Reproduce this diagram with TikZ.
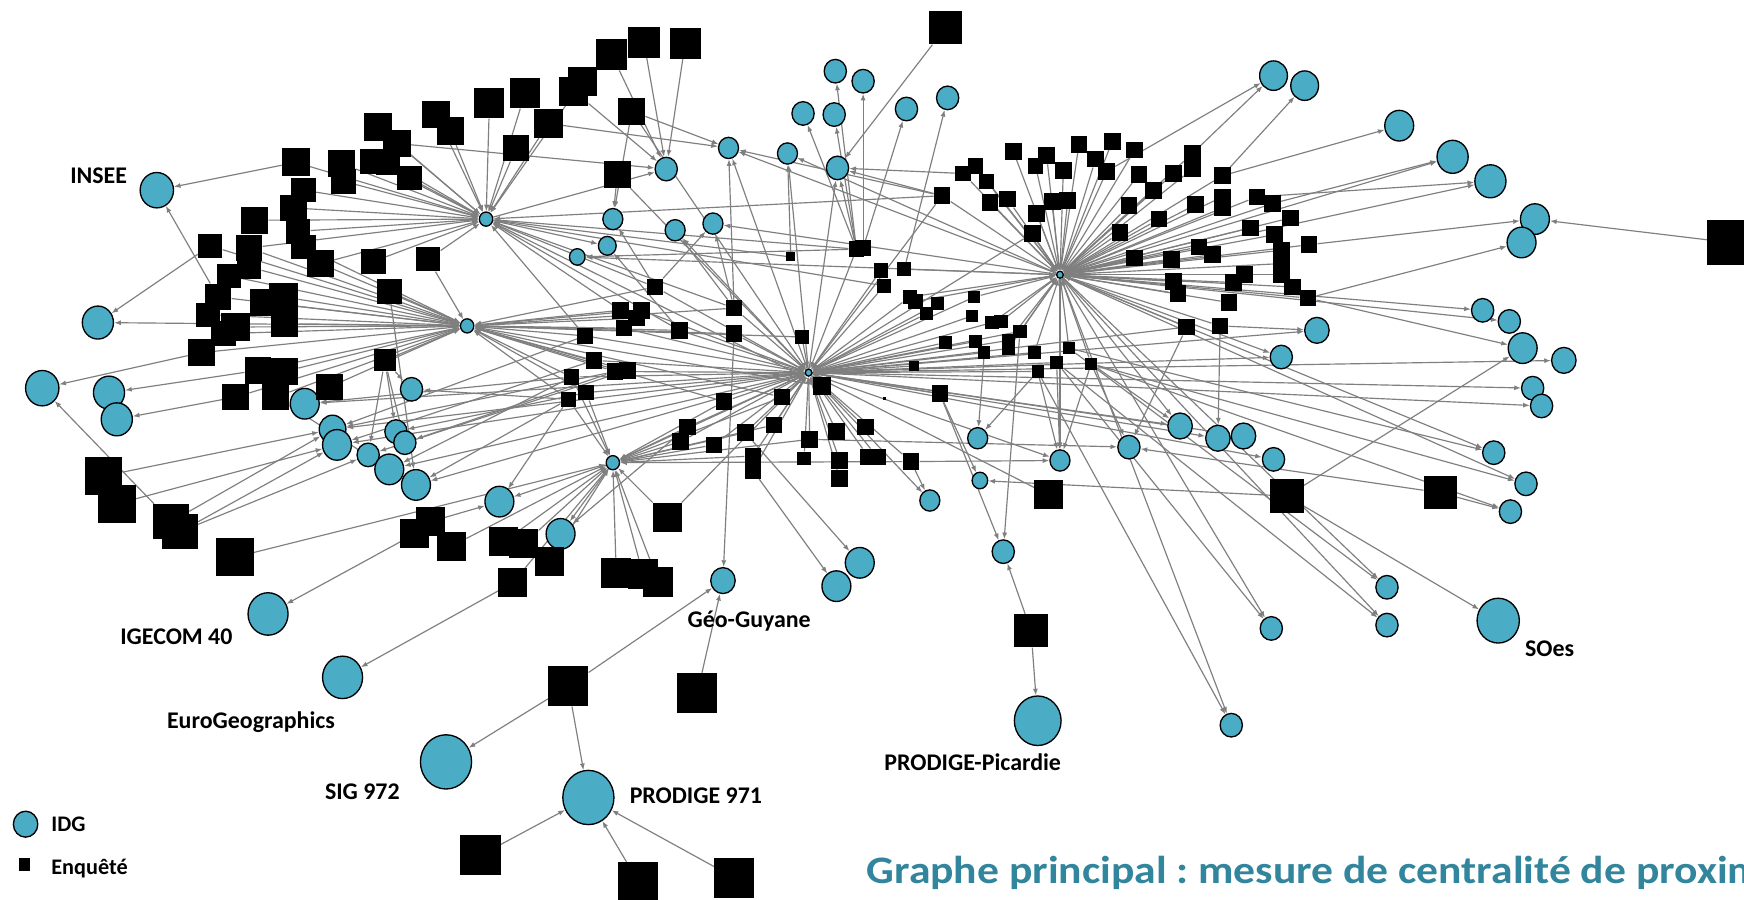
\documentclass[tikz,border=0pt]{standalone}
\usepackage{fontspec}
\setmainfont{Carlito}
\frenchspacing
\usetikzlibrary{arrows.meta,shapes.geometric,backgrounds}
\definecolor{idgblue}{HTML}{4BACC6}
\definecolor{edgegray}{HTML}{7F7F7F}
\definecolor{titleteal}{HTML}{31859C}
\tikzset{
  idg/.style={ellipse,draw=black,line width=1.2pt,fill=idgblue,inner sep=0pt,minimum width=#1pt,minimum height=1.06*#1pt},
  enq/.style={rectangle,fill=black,inner sep=0pt,minimum size=#1pt},
  lnk/.style={draw=edgegray,line width=1.05pt,-{Latex[length=6pt,width=4.5pt]}},
  lbl/.style={anchor=base west,inner sep=0pt,font=\bfseries\fontsize{21.5}{24}\selectfont},
  leglbl/.style={anchor=base west,inner sep=0pt,font=\bfseries\fontsize{20}{23}\selectfont},
  ttl/.style={anchor=base west,inner sep=0pt,text=titleteal,font=\bfseries\fontsize{35}{40}\selectfont}
}
\begin{document}
\begin{tikzpicture}[x=1pt,y=-1pt]
\useasboundingbox (0,0) rectangle (1568,809);
% ---------- IDG circles ----------
\foreach \n/\x/\y/\d in {
 cINSEE/141/171/30, cIGE/241/552/36, cEuro/308/609/36, cSIG/401/685/46, cP971/529/717/46,
 cPic/933/648/42, cSOes/1347/558/38, cGeo/650/522/22,
 hA/437/197/12, hB/420/293/12, hC/727/335/6, hD/953/247/6, hE/551/416/12,
 c1/599/152/20, c2/655/133/18, c3/551/197/18, c4/546/221/16, c5/519/231/14, c6/607/207/18,
 c7/641/201/18, c8/708/138/18, c9/753/151/20, c10/722/102/20, c11/750/103/20, c12/751/64/20,
 c13/776/73/20, c14/815/98/20, c15/852/88/20, c16/1145/68/25, c17/1173/77/25, c18/1258/113/26,
 c19/1306/141/28, c20/1340/163/28, c21/1380/197/26, c22/1368/218/26, c23/1333/279/20,
 c24/1357/289/20, c25/1184/297/22, c26/1369/313/26, c27/1406/324/22, c28/1152/321/20,
 c29/1378/349/20, c30/1386/365/20, c31/1343/407/20, c32/1372/435/20, c33/1358/460/20,
 c34/1061/383/22, c35/1095/394/22, c36/1118/392/22, c37/1145/413/20, c38/1015/402/20,
 c39/953/414/18, c40/879/394/18, c41/881/432/14, c42/836/450/18, c43/902/496/20,
 c44/773/506/26, c45/752/527/26, c46/1247/528/20, c47/1247/562/20, c48/1143/565/20,
 c49/1107/652/20, c50/88/290/28, c51/38/349/30, c52/98/353/28, c53/105/377/28,
 c54/274/363/26, c55/299/386/24, c56/303/400/26, c57/331/409/20, c58/350/422/26,
 c59/356/388/20, c60/364/398/20, c61/374/436/26, c62/370/350/20, c63/449/451/26,
 c64/504/480/26, leg/23/741/22}
 \node[idg=\d] (\n) at (\x,\y) {};
% ---------- Enquete squares ----------
\foreach \n/\x/\y/\d in {
 s1/266/146/25, s2/307/147/25, s3/309/163/22, s4/340/114/25, s5/357/129/25, s6/349/146/22,
 s7/368/160/22, s8/335/145/22, s9/392/103/25, s10/405/118/25, s11/440/93/27, s12/472/84/27,
 s13/464/133/24, s14/493/111/26, s15/516/82/26, s16/524/73/26, s17/550/49/28, s18/579/38/28,
 s19/616/39/28, s20/568/100/24, s21/555/157/24, s22/229/198/24, s23/189/221/22, s24/224/223/24,
 s25/224/240/22, s26/264/187/24, s27/273/171/22, s28/268/208/22, s29/288/237/24, s30/255/267/26,
 s31/237/272/24, s32/256/291/24, s33/212/294/26, s34/196/267/24, s35/187/283/22, s36/201/300/22,
 s37/181/317/24, s38/232/333/24, s39/256/334/24, s40/212/357/24, s41/248/357/24, s42/296/348/24,
 s43/336/235/22, s44/350/262/22, s45/385/233/22, s46/346/324/20, s47/206/248/22, s48/273/222/22,
 s50/93/428/34, s51/105/453/34, s52/154/469/32, s53/162/478/32, s54/211/501/34, s55/373/480/26,
 s56/387/469/26, s57/406/491/26, s58/453/487/26, s59/471/489/26, s60/494/505/26, s61/461/524/26,
 s62/511/617/36, s63/432/769/36, s64/627/623/36, s65/574/793/36, s66/660/789/36, s67/927/567/30,
 s68/850/25/30, s69/1555/218/40, s70/600/465/26, s71/554/515/27, s72/578/516/27, s73/592/523/27,
 s74/943/445/26, s75/1157/446/30, s76/1295/443/30}
 \node[enq=\d] (\n) at (\x,\y) {};
\foreach \n/\x/\y/\d in {
 m1/589/258/15, m3/558/279/15, m4/577/279/15, m5/572/286/15, m6/561/295/15, m7/611/297/15,
 m8/660/277/15, m9/660/300/15, m10/721/303/12, m11/711/231/8, m12/770/224/14, m13/776/223/14,
 m14/792/243/13, m15/813/242/13, m16/795/257/13, m17/818/267/13, m18/823/271/13, m19/843/273/12,
 m20/833/282/12, m21/876/267/11, m22/874/284/11, m23/892/290/12, m24/900/289/12, m25/917/298/12,
 m26/850/308/12, m27/877/307/11, m28/907/306/12, m29/907/313/12, m30/885/317/11, m31/930/317/11,
 m32/961/313/11, m33/950/326/12, m34/933/334/11, m35/981/327/11, m36/822/329/9, m37/845/354/15,
 m38/739/347/17, m39/703/357/15, m40/651/361/15, m41/618/384/15, m42/612/397/15, m43/642/400/15,
 m44/670/389/15, m45/696/382/15, m46/728/395/15, m47/752/388/15, m48/778/384/15, m49/677/410/15,
 m50/677/423/15, m51/723/412/12, m52/755/414/15, m53/755/430/15, m54/781/411/15, m55/789/411/15,
 m56/819/415/15, m57/526/302/14, m58/534/324/15, m59/553/334/15, m60/564/333/15, m61/514/339/14,
 m62/527/353/14, m63/511/359/14, m64/795/358/3}
 \node[enq=\d] (\n) at (\x,\y) {};
\foreach \n/\x/\y/\d in {
 r1/911/136/15, r2/877/149/14, r3/866/156/14, r4/887/163/14, r5/941/140/15, r6/931/149/14,
 r7/956/153/15, r8/970/130/15, r9/985/143/15, r10/1000/127/15, r11/1020/135/15, r12/995/154/15,
 r13/1024/157/15, r14/1037/171/15, r15/1055/156/15, r16/1072/138/15, r17/1072/152/15, r18/847/176/15,
 r19/890/182/15, r20/906/179/15, r21/946/181/15, r22/960/180/15, r23/932/192/15, r24/928/210/15,
 r25/1015/185/15, r26/1042/197/15, r27/1007/209/15, r28/1020/232/15, r29/1053/233/15, r30/1055/253/15,
 r31/1059/264/15, r32/1067/294/15, r34/1075/184/15, r35/1099/158/15, r36/1099/177/15, r37/1099/187/15,
 r38/1130/177/15, r39/1144/183/15, r40/1160/196/15, r41/1124/205/15, r42/1146/211/15, r43/1177/220/15,
 r44/1078/222/15, r45/1090/229/15, r46/1152/225/15, r47/1152/237/15, r48/1152/247/15, r49/1119/247/15,
 r50/1109/254/15, r51/1105/272/15, r52/1162/258/15, r53/1176/268/15, r54/1097/293/15}
 \node[enq=\d] (\n) at (\x,\y) {};
\node[rectangle,fill=black,inner sep=0pt,minimum width=10pt,minimum height=12pt] (legsq) at (22,777) {};
% ---------- labels ----------
\node[lbl] (lINSEE) at (63,165) {INSEE};
\node[lbl] (lIGE) at (108,579) {IGECOM 40};
\node[lbl] (lEuro) at (150,655) {EuroGeographics};
\node[lbl] (lSIG) at (292,719) {SIG 972};
\node[lbl] (lP971) at (566,722) {PRODIGE 971};
\node[lbl] (lPic) at (795,693) {PRODIGE-Picardie};
\node[lbl] (lGeo) at (618,564) {Géo-Guyane};
\node[lbl] (lSOes) at (1371,590) {SOes};
\node[leglbl] (lIDG) at (46,748) {IDG};
\node[leglbl] (lEnq) at (46,786) {Enquêté};
\begin{scope}
\clip (0,0) rectangle (1568,809);
\node[ttl] (title) at (779,794) {\scalebox{1.12}[1]{Graphe principal : mesure de centralité de proximité}};
\end{scope}
% ---------- connectors ----------
\begin{pgfonlayer}{background}
\fill[white] (0,0) rectangle (1568,809);
\foreach \a in {s1,s2,s3,s4,s5,s6,s7,s8,s9,s10,s11,s12,s13,s14,s16,s22,s24,s26,s27,s28,s29,s43,s45,m1,m3,m7,m8,m11,m12,m38,m57,m16,r18}
 \draw[lnk] (\a) -- (hA);
\foreach \a in {s23,s24,s25,s29,s30,s31,s32,s33,s34,s35,s36,s37,s38,s39,s40,s41,s42,s44,s45,s46,s47,s48,m57,m58,m59,m60,m61,m62,m63,m1,m3,m4,m5,m6,m7,m8,m9,m10,m38,m39,m40}
 \draw[lnk] (\a) -- (hB);
\foreach \a in {m1,m4,m6,m7,m8,m9,m10,m12,m14,m16,m17,m19,m20,m21,m22,m23,m25,m26,m27,m28,m30,m31,m33,m34,m36,m37,m38,m39,m40,m41,m42,m43,m44,m45,m46,m47,m48,m49,m50,m51,m52,m53,m54,m55,m56,m57,m58,m59,m61,m62,s70,s20,s21,r18,r24,r32,s74}
 \draw[lnk] (\a) -- (hC);
\foreach \b in {c2,c6,c9,c8,c25,c27,c28,c29,c30,c34,c35,c36,c37,c39,c42,hE,c54,c55,c56,c58,c61}
 \draw[lnk] (hC) -- (\b);
\foreach \a in {r1,r2,r3,r4,r5,r6,r7,r8,r9,r10,r11,r12,r13,r14,r15,r16,r17,r18,r19,r20,r21,r22,r23,r24,r25,r26,r27,r28,r29,r30,r31,r32,r34,r35,r36,r37,r38,r39,r40,r41,r42,r43,r44,r45,r46,r47,r48,r49,r50,r51,r52,r53,r54,m15,m17,m18,m21,m23,m24,m25,m28,m29,m31,m32,m35}
 \draw[lnk] (\a) -- (hD);
\foreach \b in {c19,c20,c23,c24,c28,c31,c32,c46,c47,c48,c49,c34,c39,c7,c2,c8,c5}
 \draw[lnk] (hD) -- (\b);
\foreach \a in {s54,s57,s58,s59,s60,s61,s70,s71,s72,s73,m39,m40,m41,m42,m43,m44,m45,m46,m49,m56,m61,m62,m63}
 \draw[lnk] (\a) -- (hE);
\foreach \a/\b in {
 s1/cINSEE, s34/cINSEE, s23/c50, hB/c50, s37/c51, s52/c51, s38/c52, s40/c53, m61/c54, s42/c54,
 s50/c55, s52/c55, m57/c55, m59/c55, s51/c56, s53/c56, m58/c56, s53/c57, s46/c57, m60/c57,
 m61/c58, s41/c58, s46/c59, m62/c59, s46/c60, m59/c60, m63/c61, s44/c61, s46/c62, m63/c62,
 hE/c63, m63/c63, s56/c63, hE/c64, m41/c64,
 s55/cIGE, s61/cEuro, s62/cSIG, s62/cP971, s63/cP971, s65/cP971, s66/cP971,
 s62/cGeo, s64/cGeo, m9/cGeo, s67/cPic, s67/c43, m37/c43, m25/c43, m44/c44, m50/c45,
 m56/c42, s75/c41, m37/c41, m30/c40, m34/c40, m33/c39, m34/c39, m35/c39, m56/c39,
 m35/c38, r32/c38, m46/c38, s76/c38, m35/c34, r54/c35, r54/c25, r53/c26, s75/c26,
 m32/c31, m35/c32, s76/c33, m35/c33, s75/cSOes, m32/c46, m33/c47, m33/c48, m34/c49,
 r12/c16, r16/c16, r35/c17, r35/c18, r39/c19, r38/c20, r43/c21, s69/c21, r53/c22,
 r3/c9, r18/c9, m12/c9, s68/c9, m11/c8, m12/c10, m12/c11, m12/c12, m13/c13, m13/c14, m15/c15,
 m8/c2, s20/c2, r18/c2, s14/c2, s17/c1, s18/c1, s19/c1, s15/c1, s5/c1, hA/c1,
 s21/c3, m1/c3, s20/c3, m7/c4, hA/c4, m12/c5, m8/c6, m8/c7, m1/c7}
 \draw[lnk] (\a) -- (\b);
\end{pgfonlayer}
\end{tikzpicture}
\end{document}
